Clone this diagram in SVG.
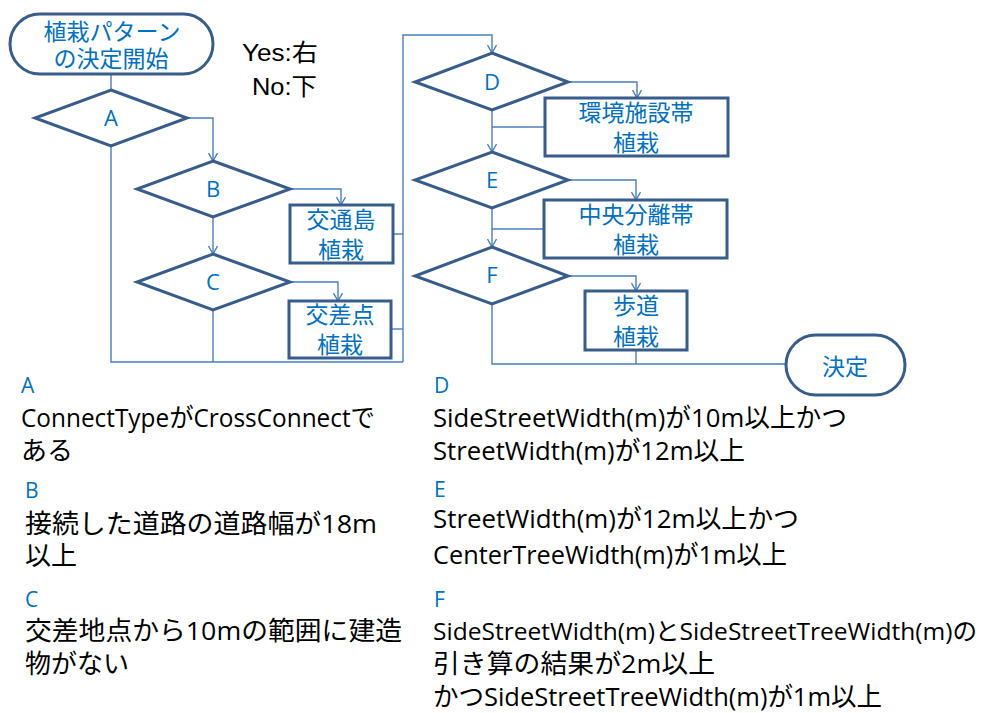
<svg xmlns="http://www.w3.org/2000/svg" width="983" height="713" viewBox="0 0 983 713">
  <defs>
    <marker id="arrow" viewBox="0 0 10 10" refX="9" refY="5" markerWidth="10" markerHeight="10" markerUnits="userSpaceOnUse" orient="auto">
      <path d="M1,0.5 L9,5 L1,9.5" fill="none" stroke="#4A7EBB" stroke-width="1.4"/>
    </marker>
    <style>
      .shape { fill: #ffffff; stroke: #385D8A; stroke-width: 3; }
      .conn { fill: none; stroke: #4A7EBB; stroke-width: 1.4; }
      .arr { marker-end: url(#arrow); }
      .nodetext { font-family: "Noto Sans CJK JP", sans-serif; font-size: 23px; fill: #0070C0; text-anchor: middle; }
      .letter { font-family: "Open Sans", "Noto Sans CJK JP", sans-serif; font-size: 22px; fill: #0070C0; text-anchor: middle; }
      .key { font-family: "Open Sans", "Noto Sans CJK JP", sans-serif; font-size: 21px; fill: #0070C0; }
      .desc { font-family: "Open Sans", "Noto Sans CJK JP", sans-serif; font-size: 26px; fill: #000000; }
      .long { font-size: 24px; }
      .legend { font-family: "Liberation Sans", "Noto Sans CJK JP", sans-serif; font-size: 24px; fill: #000000; }
    </style>
  </defs>

  <rect width="983" height="713" fill="#ffffff"/>

  <!-- connectors -->
  <g id="connectors">
    <path class="conn" d="M111,74 V90"/>
    <path class="conn arr" d="M186,118 H213 V161"/>
    <path class="conn arr" d="M290,189 H341 V205"/>
    <path class="conn arr" d="M213,217 V254"/>
    <path class="conn arr" d="M290,282 H338 V301"/>
    <path class="conn" d="M111,146 V362 H403"/>
    <path class="conn" d="M213,310 V362"/>
    <path class="conn" d="M393,234 H403"/>
    <path class="conn" d="M391,329 H403"/>
    <path class="conn arr" d="M403,362 V35 H492 V53"/>
    <path class="conn arr" d="M568,82 H637 V98"/>
    <path class="conn arr" d="M492,110 V152"/>
    <path class="conn" d="M545,127 H492"/>
    <path class="conn arr" d="M568,180 H636 V200"/>
    <path class="conn arr" d="M492,208 V247"/>
    <path class="conn" d="M544,229 H492"/>
    <path class="conn arr" d="M568,276 H636 V291"/>
    <path class="conn" d="M492,304 V364 H786"/>
    <path class="conn" d="M636,350 V364"/>
  </g>

  <!-- flowchart nodes -->
  <g id="start">
    <rect class="shape" x="10" y="14" width="203" height="60" rx="30" ry="30"/>
    <text class="nodetext" x="112" y="40">植栽パターン</text>
    <text class="nodetext" x="111" y="67">の決定開始</text>
  </g>
  <g id="decisionA">
    <polygon class="shape" points="111,90 187,118 111,146 35,118"/>
    <text class="letter" x="111" y="126">A</text>
  </g>
  <g id="decisionB">
    <polygon class="shape" points="213,161 290,189 213,217 137,189"/>
    <text class="letter" x="213" y="197">B</text>
  </g>
  <g id="decisionC">
    <polygon class="shape" points="213,254 290,282 213,310 137,282"/>
    <text class="letter" x="213" y="290">C</text>
  </g>
  <g id="islandPlanting">
    <rect class="shape" x="290" y="205" width="103" height="58"/>
    <text class="nodetext" x="341" y="228">交通島</text>
    <text class="nodetext" x="341" y="258">植栽</text>
  </g>
  <g id="intersectionPlanting">
    <rect class="shape" x="289" y="301" width="102" height="57"/>
    <text class="nodetext" x="340" y="323">交差点</text>
    <text class="nodetext" x="340" y="353">植栽</text>
  </g>
  <g id="decisionD">
    <polygon class="shape" points="492,53 568,82 492,110 415,82"/>
    <text class="letter" x="492" y="90">D</text>
  </g>
  <g id="envPlanting">
    <rect class="shape" x="545" y="98" width="183" height="58"/>
    <text class="nodetext" x="636" y="121">環境施設帯</text>
    <text class="nodetext" x="636" y="151">植栽</text>
  </g>
  <g id="decisionE">
    <polygon class="shape" points="492,152 568,180 492,208 415,180"/>
    <text class="letter" x="492" y="188">E</text>
  </g>
  <g id="medianPlanting">
    <rect class="shape" x="544" y="200" width="183" height="58"/>
    <text class="nodetext" x="636" y="223">中央分離帯</text>
    <text class="nodetext" x="636" y="253">植栽</text>
  </g>
  <g id="decisionF">
    <polygon class="shape" points="492,247 568,276 492,304 415,276"/>
    <text class="letter" x="492" y="283">F</text>
  </g>
  <g id="sidewalkPlanting">
    <rect class="shape" x="585" y="291" width="102" height="59"/>
    <text class="nodetext" x="636" y="314">歩道</text>
    <text class="nodetext" x="636" y="345">植栽</text>
  </g>
  <g id="end">
    <rect class="shape" x="786" y="335" width="119" height="60" rx="30" ry="30"/>
    <text class="nodetext" x="845" y="375">決定</text>
  </g>

  <!-- branch legend -->
  <g id="legend">
    <text class="legend" x="242" y="61" textLength="76" lengthAdjust="spacingAndGlyphs">Yes:右</text>
    <text class="legend" x="252" y="95" textLength="65" lengthAdjust="spacingAndGlyphs">No:下</text>
  </g>

  <!-- condition descriptions -->
  <g id="conditionsLeft">
    <text class="key" x="21" y="393">A</text>
    <text class="desc" x="21" y="427" textLength="354" lengthAdjust="spacingAndGlyphs">ConnectTypeがCrossConnectで</text>
    <text class="desc" x="21" y="460">ある</text>
    <text class="key" x="25" y="498">B</text>
    <text class="desc" x="25" y="533" textLength="352" lengthAdjust="spacingAndGlyphs">接続した道路の道路幅が18m</text>
    <text class="desc" x="25" y="565">以上</text>
    <text class="key" x="25" y="607">C</text>
    <text class="desc" x="25" y="640" textLength="377" lengthAdjust="spacingAndGlyphs">交差地点から10mの範囲に建造</text>
    <text class="desc" x="25" y="673">物がない</text>
  </g>
  <g id="conditionsRight">
    <text class="key" x="434" y="393">D</text>
    <text class="desc" x="433" y="427" textLength="414" lengthAdjust="spacingAndGlyphs">SideStreetWidth(m)が10m以上かつ</text>
    <text class="desc" x="433" y="460" textLength="312" lengthAdjust="spacingAndGlyphs">StreetWidth(m)が12m以上</text>
    <text class="key" x="434" y="497">E</text>
    <text class="desc" x="433" y="528" textLength="366" lengthAdjust="spacingAndGlyphs">StreetWidth(m)が12m以上かつ</text>
    <text class="desc" x="433" y="564" textLength="354" lengthAdjust="spacingAndGlyphs">CenterTreeWidth(m)が1m以上</text>
    <text class="key" x="434" y="607">F</text>
    <text class="desc long" x="433" y="640" textLength="544" lengthAdjust="spacingAndGlyphs">SideStreetWidth(m)とSideStreetTreeWidth(m)の</text>
    <text class="desc" x="433" y="673" textLength="282" lengthAdjust="spacingAndGlyphs">引き算の結果が2m以上</text>
    <text class="desc" x="433" y="706" textLength="449" lengthAdjust="spacingAndGlyphs">かつSideStreetTreeWidth(m)が1m以上</text>
  </g>
</svg>
